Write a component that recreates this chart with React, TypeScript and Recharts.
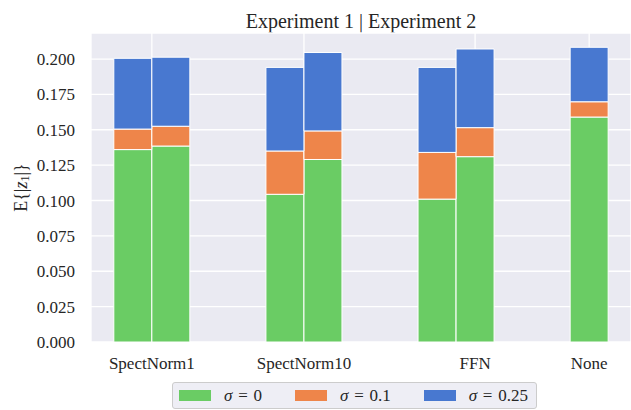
import { BarChart, Bar, XAxis, YAxis, CartesianGrid, Label } from "recharts";

// groups on the x axis and where their labels sit (group spacing = 1)
const categories = ["SpectNorm1", "SpectNorm10", "FFN", "None"];
const categoryTicks = [0, 1, 2.125, 2.875];

// one entry per bar: Experiment 1 / Experiment 2 side by side, None only has one bar
const barPositions = [-0.125, 0.125, 0.875, 1.125, 1.875, 2.125, 2.875];
const sigma0 = [0.136, 0.1385, 0.1044, 0.129, 0.101, 0.131, 0.159];
const sigma01 = [0.0145, 0.014, 0.0306, 0.0202, 0.033, 0.0205, 0.0108];
const sigma025 = [0.05, 0.0488, 0.0591, 0.0554, 0.0601, 0.0556, 0.0385];

const sigmaLabels = ["0", "0.1", "0.25"];
const seriesKeys = ["s0", "s1", "s2"];
const seriesColors = ["#6ACC64", "#EE854A", "#4878D0"];

const yTicks = [0, 0.025, 0.05, 0.075, 0.1, 0.125, 0.15, 0.175, 0.2];

const data = barPositions.map((x, i) => ({
  x,
  s0: sigma0[i],
  s1: sigma01[i],
  s2: sigma025[i],
}));

const FONT = "Liberation Serif";
const TEXT = "#262626";

function YLabel({ viewBox }: any) {
  const cx = viewBox.x + 21;
  const cy = viewBox.y + viewBox.height / 2;
  return (
    <text
      x={cx}
      y={cy}
      transform={`rotate(-90, ${cx}, ${cy})`}
      textAnchor="middle"
      dominantBaseline="central"
      fill={TEXT}
      fontSize={18}
      fontFamily={FONT}
    >
      E{"{|"}
      <tspan fontStyle="italic">z</tspan>
      <tspan fontSize={12} dy={4}>1</tspan>
      <tspan dy={-4}>{"|}"}</tspan>
    </text>
  );
}

function SigmaLegend() {
  return (
    <div
      style={{
        position: "absolute",
        left: 172,
        top: 382,
        height: 27,
        boxSizing: "border-box",
        border: "1px solid #cccccc",
        borderRadius: 3,
        background: "#EEEEF5",
        display: "flex",
        alignItems: "center",
        paddingLeft: 6,
        paddingRight: 8,
        fontFamily: FONT,
        fontSize: 17,
        wordSpacing: 1.5,
        color: TEXT,
        whiteSpace: "nowrap",
      }}
    >
      {sigmaLabels.map((s, i) => (
        <div key={s} style={{ display: "flex", alignItems: "center" }}>
          <span
            style={{
              display: "inline-block",
              width: 32,
              height: 11,
              background: seriesColors[i],
              marginRight: 13,
            }}
          />
          <span style={{ marginRight: i < sigmaLabels.length - 1 ? 33 : 0 }}>
            <i>σ</i> = {s}
          </span>
        </div>
      ))}
    </div>
  );
}

export default function App() {
  return (
    <div style={{ position: "absolute", left: 0, top: 0, width: 631, height: 410, background: "#fff" }}>
      <div
        style={{
          position: "absolute",
          left: 91,
          top: 11,
          width: 540,
          textAlign: "center",
          fontFamily: FONT,
          fontSize: 20,
          lineHeight: "20px",
          color: TEXT,
        }}
      >
        Experiment 1 | Experiment 2
      </div>
      <BarChart
        width={631}
        height={410}
        data={data}
        margin={{ top: 33, right: 0, bottom: 0, left: 0 }}
      >
        <CartesianGrid fill="#EAEAF2" fillOpacity={1} stroke="#ffffff" strokeWidth={1.3} />
        <XAxis
          dataKey="x"
          type="number"
          domain={[-0.4, 3.15]}
          ticks={categoryTicks}
          tickFormatter={(v: number) => categories[categoryTicks.indexOf(v)] ?? ""}
          interval={0}
          allowDataOverflow
          axisLine={false}
          tickLine={false}
          tickSize={6}
          tickMargin={9}
          height={68}
          tick={{ fill: TEXT, fontSize: 17, fontFamily: FONT }}
        />
        <YAxis
          type="number"
          domain={[0, 0.2184]}
          ticks={yTicks}
          interval={0}
          allowDataOverflow
          tickFormatter={(v: number) => v.toFixed(3)}
          axisLine={false}
          tickLine={false}
          tickSize={6}
          tickMargin={10}
          width={91}
          tick={{ fill: TEXT, fontSize: 17, fontFamily: FONT }}
        >
          <Label content={(p: any) => <YLabel viewBox={p.viewBox} />} />
        </YAxis>
        {seriesKeys.map((k, i) => (
          <Bar
            key={k}
            dataKey={k}
            stackId="a"
            fill={seriesColors[i]}
            stroke="#ffffff"
            strokeWidth={1}
            barSize={38}
            isAnimationActive={false}
          />
        ))}
      </BarChart>
      <SigmaLegend />
    </div>
  );
}
